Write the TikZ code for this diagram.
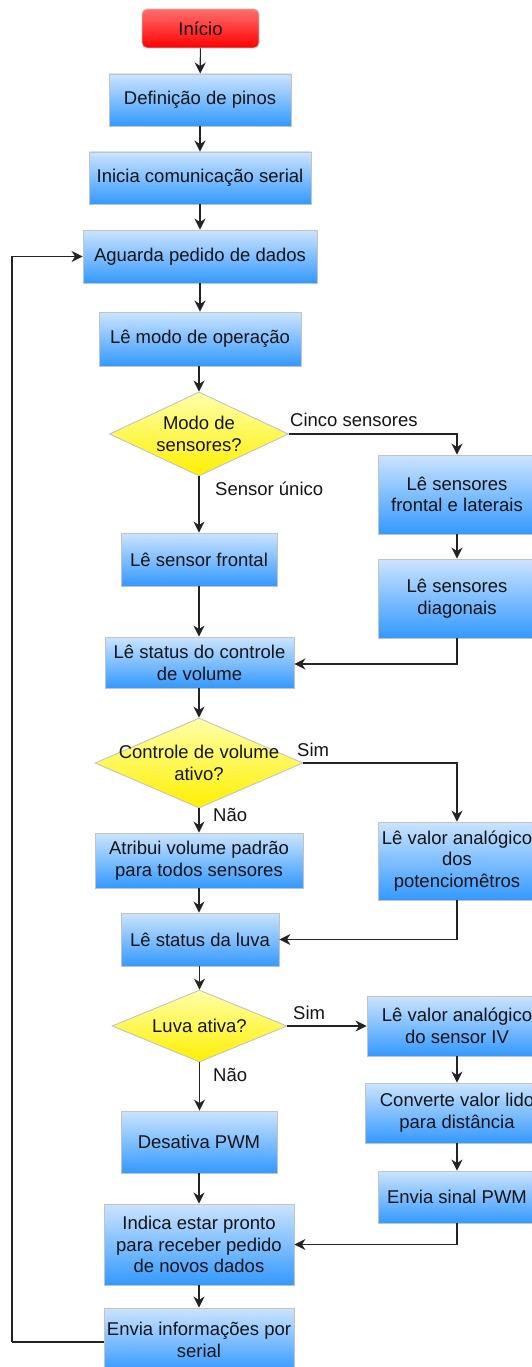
\documentclass[tikz,border=0pt]{standalone}
\usepackage{fontspec}
\setmainfont{Liberation Sans}
\usetikzlibrary{shapes.geometric,arrows.meta}

\definecolor{boxtop}{RGB}{204,228,255}
\definecolor{boxbot}{RGB}{51,153,255}
\definecolor{redtop}{RGB}{255,110,110}
\definecolor{redbot}{RGB}{255,0,0}
\definecolor{yeltop}{RGB}{255,255,170}
\definecolor{yelbot}{RGB}{255,240,0}
\definecolor{edge}{RGB}{195,195,195}
\definecolor{ink}{RGB}{20,20,20}
\definecolor{wire}{RGB}{35,35,35}

\tikzset{
  basefont/.style={font=\fontsize{18.5}{21.7}\selectfont, text=ink},
  proc/.style={basefont, draw=edge, line width=0.9pt, top color=boxtop, bottom color=boxbot,
    rectangle, align=center, inner sep=0pt},
  startbox/.style={proc, top color=redtop, bottom color=redbot, rounded corners=5pt},
  decision/.style={diamond, draw=edge, line width=0.9pt, top color=yeltop, bottom color=yelbot,
    inner sep=0pt},
  dtext/.style={basefont, align=center, inner sep=0pt},
  lbl/.style={basefont, anchor=west, inner sep=0pt},
  flow/.style={draw=wire, line width=1.1pt, -{Stealth[length=11pt,width=11pt,inset=3.5pt]}},
  link/.style={draw=wire, line width=1.1pt},
}

\begin{document}
\begin{tikzpicture}[x=1pt,y=-1pt]
  \useasboundingbox (0,0) rectangle (532,1367);

  % main column
  \node[startbox, minimum width=117pt, minimum height=39pt] (inicio) at (200.5,28.5) {Início};
  \node[proc, minimum width=182pt, minimum height=52pt] (defpin) at (200,100) {Definição de pinos};
  \node[proc, minimum width=222pt, minimum height=52pt] (serial) at (200,178) {Inicia comunicação serial};
  \node[proc, minimum width=234pt, minimum height=53pt] (aguarda) at (200,256.5) {Aguarda pedido de dados};
  \node[proc, minimum width=202pt, minimum height=54pt] (modo) at (200,339) {Lê modo de operação};

  \node[decision, minimum width=179pt, minimum height=84pt] (dmodo) at (199,434) {};
  \node[dtext] at (dmodo) {Modo de\\sensores?};

  \node[proc, minimum width=156pt, minimum height=53pt] (sfront) at (199,559.5) {Lê sensor frontal};
  \node[proc, minimum width=158pt, minimum height=79pt] (fl) at (457,494.5) {Lê sensores\\frontal e laterais};
  \node[proc, minimum width=158pt, minimum height=79pt] (diag) at (457,598.5) {Lê sensores\\diagonais};
  \node[proc, minimum width=189pt, minimum height=51pt] (vol) at (199.5,662.5) {Lê status do controle\\de volume};

  \node[decision, minimum width=208pt, minimum height=90pt] (dvol) at (199,763) {};
  \node[dtext] at (dvol) {Controle de volume\\ativo?};

  \node[proc, minimum width=208pt, minimum height=55pt] (atrib) at (199,860.5) {Atribui volume padrão\\para todos sensores};
  \node[proc, minimum width=158pt, minimum height=78pt] (pot) at (457,861) {Lê valor analógico\\dos\\potenciomêtros};
  \node[proc, minimum width=158pt, minimum height=53pt] (luva) at (200,939.5) {Lê status da luva};

  \node[decision, minimum width=175pt, minimum height=72pt] (dluva) at (199.5,1026) {};
  \node[dtext] at (dluva) {Luva ativa?};

  \node[proc, minimum width=180pt, minimum height=60pt] (iv) at (457,1026) {Lê valor analógico\\do sensor IV};
  \node[proc, minimum width=184pt, minimum height=60pt] (conv) at (457,1113) {Converte valor lido\\para distância};
  \node[proc, minimum width=158pt, minimum height=52pt] (pwm) at (457,1197) {Envia sinal PWM};
  \node[proc, minimum width=156pt, minimum height=62pt] (desat) at (199,1142) {Desativa PWM};
  \node[proc, minimum width=190pt, minimum height=81pt] (pronto) at (199,1244.5) {Indica estar pronto\\para receber pedido\\de novos dados};
  \node[proc, minimum width=190pt, minimum height=64pt] (envia) at (199,1340) {Envia informações por\\serial};

  \coordinate (loop) at (12,1342);

  % connectors
  \draw[flow] (inicio) -- (defpin);
  \draw[flow] (defpin) -- (serial);
  \draw[flow] (serial) -- (aguarda);
  \draw[flow] (aguarda) -- (modo);
  \draw[flow] (modo.south -| dmodo.north) -- (dmodo.north);
  \draw[flow] (dmodo.east) -| (fl.north);
  \draw[flow] (dmodo.south) -- (sfront.north -| dmodo.south);
  \draw[flow] (fl) -- (diag);
  \draw[flow] (sfront) -- (vol.north -| sfront.south);
  \draw[flow] (diag.south) |- ([yshift=-1.5pt]vol.east);
  \draw[flow] (vol.south -| dvol.north) -- (dvol.north);
  \draw[flow] (dvol.east) -| (pot.north);
  \draw[flow] (dvol.south) -- (atrib.north -| dvol.south);
  \draw[flow] (atrib.south) -- (luva.north -| atrib.south);
  \draw[flow] (pot.south) |- (luva.east);
  \draw[flow] (luva.south -| dluva.north) -- (dluva.north);
  \draw[flow] (dluva.east) -- (iv.west);
  \draw[flow] (dluva.south) -- (desat.north -| dluva.south);
  \draw[flow] (iv) -- (conv);
  \draw[flow] (conv) -- (pwm);
  \draw[flow] (desat) -- (pronto.north -| desat.south);
  \draw[flow] (pwm.south) |- (pronto.east);
  \draw[flow] (pronto) -- (envia);
  \draw[link] (envia.west |- loop) -- (loop);
  \draw[flow] (loop) |- (aguarda.west);

  % branch labels
  \node[lbl] at (290,420) {Cinco sensores};
  \node[lbl] at (215,489) {Sensor único};
  \node[lbl] at (297,750) {Sim};
  \node[lbl] at (213,815) {Não};
  \node[lbl] at (293,1013) {Sim};
  \node[lbl] at (213,1075) {Não};
\end{tikzpicture}
\end{document}
